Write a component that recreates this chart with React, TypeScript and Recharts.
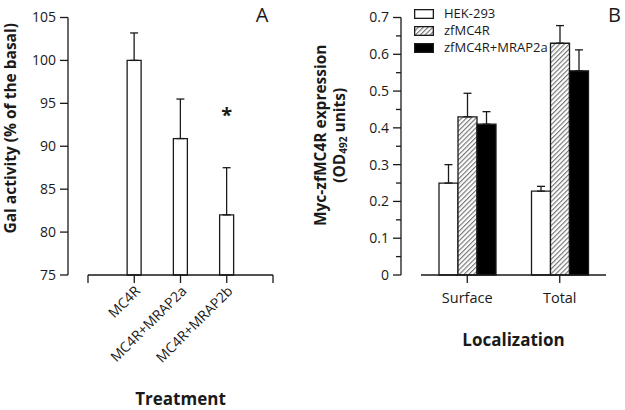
import React from 'react';
import { BarChart, Bar, XAxis, YAxis, ErrorBar, Legend, Label, ReferenceDot } from 'recharts';

const FONT = '"Open Sans", "DejaVu Sans", sans-serif';
const INK = '#1a1a1a';

// ---------- Panel A data ----------
const treatments = ['MC4R', 'MC4R+MRAP2a', 'MC4R+MRAP2b'];
const treatmentPositions = [1, 2, 3];
const treatmentAxisTicks = [0, 1, 2, 3, 4];
const galActivity = [100, 90.9, 82.0];
const galActivityErr = [3.2, 4.6, 5.5];
const galTicks = [75, 80, 85, 90, 95, 100, 105];
const significanceMarks = ['*'];
const significancePositions = [3];
const significanceValues = [93.7];

// ---------- Panel B data ----------
const localizations = ['Surface', 'Total'];
const hek293 = [0.25, 0.228];
const hek293Err = [0.05, 0.013];
const zfMC4R = [0.43, 0.63];
const zfMC4RErr = [0.064, 0.048];
const zfMC4RMrap2a = [0.41, 0.555];
const zfMC4RMrap2aErr = [0.034, 0.057];
const expressionTicks = [0, 0.05, 0.1, 0.15, 0.2, 0.25, 0.3, 0.35, 0.4, 0.45, 0.5, 0.55, 0.6, 0.65, 0.7];
const seriesNames = ['HEK-293', 'zfMC4R', 'zfMC4R+MRAP2a'];

const dataA = treatments.map((name, i) => ({
  name,
  pos: treatmentPositions[i],
  value: galActivity[i],
  err: [0, galActivityErr[i]],
}));

const dataB = localizations.map((name, i) => ({
  name,
  hek: hek293[i],
  hekErr: [0, hek293Err[i]],
  zf: zfMC4R[i],
  zfErr: [0, zfMC4RErr[i]],
  zfm: zfMC4RMrap2a[i],
  zfmErr: [0, zfMC4RMrap2aErr[i]],
}));

const seriesB = [
  { key: 'hek', err: 'hekErr', name: seriesNames[0], fill: '#ffffff' },
  { key: 'zf', err: 'zfErr', name: seriesNames[1], fill: 'url(#hatchB)' },
  { key: 'zfm', err: 'zfmErr', name: seriesNames[2], fill: '#000000' },
];

const lineStyle = { stroke: INK, strokeWidth: 1.3 };
const dashedAxis = { stroke: INK, strokeWidth: 1.3, strokeDasharray: '0 20 400' };

const RotatedTick = (props: any) => {
  const { x, y, payload } = props;
  const label = treatments[treatmentPositions.indexOf(payload.value)];
  if (!label) return null;
  const ax = x + 3;
  const ay = y + 3;
  return (
    <text
      x={ax}
      y={ay}
      transform={`rotate(-45 ${ax} ${ay})`}
      textAnchor="end"
      dominantBaseline="central"
      fontSize={14}
      fontFamily={FONT}
      fill={INK}
    >
      {label}
    </text>
  );
};

const ExpressionTick = (props: any) => {
  const { x, y, payload } = props;
  const v = payload.value;
  const tenths = Math.round(v * 10);
  const major = Math.abs(tenths - v * 10) < 1e-6;
  return (
    <g>
      <line x1={x + 4 + (major ? 0 : 3)} x2={x + 12} y1={y} y2={y} stroke={INK} strokeWidth={1.3} />
      {major && (
        <text x={x} y={y} dy="0.35em" textAnchor="end" fontSize={14} fontFamily={FONT} fill={INK}>
          {tenths === 0 ? '0' : (tenths / 10).toFixed(1)}
        </text>
      )}
    </g>
  );
};

const TitleA = (props: any) => {
  const { viewBox } = props;
  const x = viewBox.x + 2;
  const y = viewBox.y + viewBox.height / 2 - 18;
  return (
    <text
      x={x}
      y={y}
      transform={`rotate(-90 ${x} ${y})`}
      textAnchor="middle"
      dominantBaseline="central"
      fontSize={15.5}
      fontWeight={700}
      fontFamily={FONT}
      fill={INK}
    >
      Gal activity (% of the basal)
    </text>
  );
};

const TitleB = (props: any) => {
  const { viewBox } = props;
  const y = viewBox.y + viewBox.height / 2 - 11;
  const x1 = viewBox.x - 21;
  const x2 = viewBox.x - 2;
  const common = {
    textAnchor: 'middle' as const,
    dominantBaseline: 'central' as const,
    fontSize: 15.5,
    fontWeight: 700,
    fontFamily: FONT,
    fill: INK,
  };
  return (
    <g>
      <text x={x1} y={y} transform={`rotate(-90 ${x1} ${y})`} {...common}>
        Myc-zfMC4R expression
      </text>
      <text x={x2} y={y} transform={`rotate(-90 ${x2} ${y})`} {...common}>
        (OD<tspan fontSize={10} dy={4}>492</tspan>
        <tspan dy={-4}> units)</tspan>
      </text>
    </g>
  );
};

const XTitle = (text: string, dyFromAxis: number) => (props: any) => {
  const { viewBox } = props;
  const x = viewBox.x + 20 + (viewBox.width - 20) / 2;
  const y = viewBox.y + dyFromAxis;
  return (
    <text x={x} y={y} textAnchor="middle" fontSize={17} fontWeight={700} fontFamily={FONT} fill={INK}>
      {text}
    </text>
  );
};

const PanelLetter = (letter: string, dxFromRight: number) => (props: any) => {
  const { viewBox } = props;
  const x = viewBox.x + viewBox.width + dxFromRight;
  const y = viewBox.y - 253.5;
  return (
    <text x={x} y={y} textAnchor="middle" fontSize={20} fontFamily={FONT} fill={INK}>
      {letter}
    </text>
  );
};

const LegendContentB = (props: any) => {
  const payload = props.payload || [];
  return (
    <div style={{ fontFamily: FONT, fontSize: 13, color: INK, lineHeight: '17px' }}>
      {payload.map((entry: any) => {
        const s = seriesB.find((d) => d.key === entry.dataKey) || seriesB[0];
        return (
          <div key={s.key} style={{ display: 'flex', alignItems: 'center', height: 17 }}>
            <svg width={20} height={10} style={{ display: 'block' }}>
              <rect x={0.65} y={0.65} width={18.7} height={8.7} fill={s.fill} stroke={INK} strokeWidth={1.3} />
            </svg>
            <span style={{ marginLeft: 10 }}>{s.name}</span>
          </div>
        );
      })}
    </div>
  );
};

export default function App() {
  return (
    <div style={{ position: 'absolute', left: 0, top: 0, width: 625, height: 410, background: '#fff' }}>
      <div style={{ position: 'absolute', left: 0, top: 0 }}>
        <BarChart width={300} height={410} data={dataA} margin={{ top: 17.5, right: 27, bottom: 75, left: 8 }}>
          <XAxis
            type="number"
            dataKey="pos"
            domain={[0, 4]}
            ticks={treatmentAxisTicks}
            interval={0}
            padding={{ left: 20, right: 0 }}
            height={60}
            tickSize={8}
            tickMargin={2}
            axisLine={dashedAxis}
            tickLine={lineStyle}
            tick={<RotatedTick />}
          >
            <Label content={XTitle('Treatment', 129.5)} />
            <Label content={PanelLetter('A', -11)} />
          </XAxis>
          <YAxis
            type="number"
            domain={[75, 105]}
            ticks={galTicks}
            interval={0}
            width={60}
            tickSize={8}
            tickMargin={4}
            axisLine={lineStyle}
            tickLine={lineStyle}
            tick={{ fill: INK, fontSize: 14, fontFamily: FONT }}
          >
            <Label content={TitleA} />
          </YAxis>
          <Bar dataKey="value" barSize={14} fill="#ffffff" stroke={INK} strokeWidth={1.3} isAnimationActive={false}>
            <ErrorBar dataKey="err" width={4} stroke={INK} strokeWidth={1.3} direction="y" />
          </Bar>
          {significanceMarks.map((m, i) => (
            <ReferenceDot
              key={i}
              x={significancePositions[i]}
              y={significanceValues[i]}
              r={0}
              fill="none"
              stroke="none"
              label={{ value: m, position: 'center', fontSize: 20, fontWeight: 700, fill: INK, fontFamily: FONT }}
            />
          ))}
        </BarChart>
      </div>
      <div style={{ position: 'absolute', left: 300, top: 0 }}>
        <BarChart
          width={325}
          height={410}
          data={dataB}
          margin={{ top: 17.5, right: 19, bottom: 75, left: 41 }}
          barCategoryGap={18}
          barGap={0}
        >
          <defs>
            <pattern id="hatchB" patternUnits="userSpaceOnUse" width={3.4} height={3.4} patternTransform="rotate(45)">
              <rect width={3.4} height={3.4} fill="#ffffff" />
              <line x1={0.6} y1={0} x2={0.6} y2={3.4} stroke="#6e6e6e" strokeWidth={1.1} />
            </pattern>
          </defs>
          <XAxis
            dataKey="name"
            type="category"
            padding={{ left: 20, right: 0 }}
            height={60}
            tickSize={8}
            tickMargin={10}
            axisLine={dashedAxis}
            tickLine={lineStyle}
            tick={{ fill: INK, fontSize: 14.5, fontFamily: FONT }}
          >
            <Label content={XTitle('Localization', 71)} />
            <Label content={PanelLetter('B', 8.5)} />
          </XAxis>
          <YAxis
            type="number"
            domain={[0, 0.7]}
            ticks={expressionTicks}
            interval={0}
            width={60}
            tickSize={8}
            tickMargin={4}
            axisLine={lineStyle}
            tickLine={false}
            tick={<ExpressionTick />}
          >
            <Label content={TitleB} />
          </YAxis>
          <Legend
            layout="vertical"
            align="center"
            verticalAlign="middle"
            wrapperStyle={{ left: 114, top: 5, width: 'auto' }}
            content={<LegendContentB />}
          />
          {seriesB.map((s) => (
            <Bar
              key={s.key}
              dataKey={s.key}
              name={s.name}
              fill={s.fill}
              stroke={INK}
              strokeWidth={1.3}
              isAnimationActive={false}
            >
              <ErrorBar dataKey={s.err} width={4} stroke={INK} strokeWidth={1.3} direction="y" />
            </Bar>
          ))}
        </BarChart>
      </div>
    </div>
  );
}
